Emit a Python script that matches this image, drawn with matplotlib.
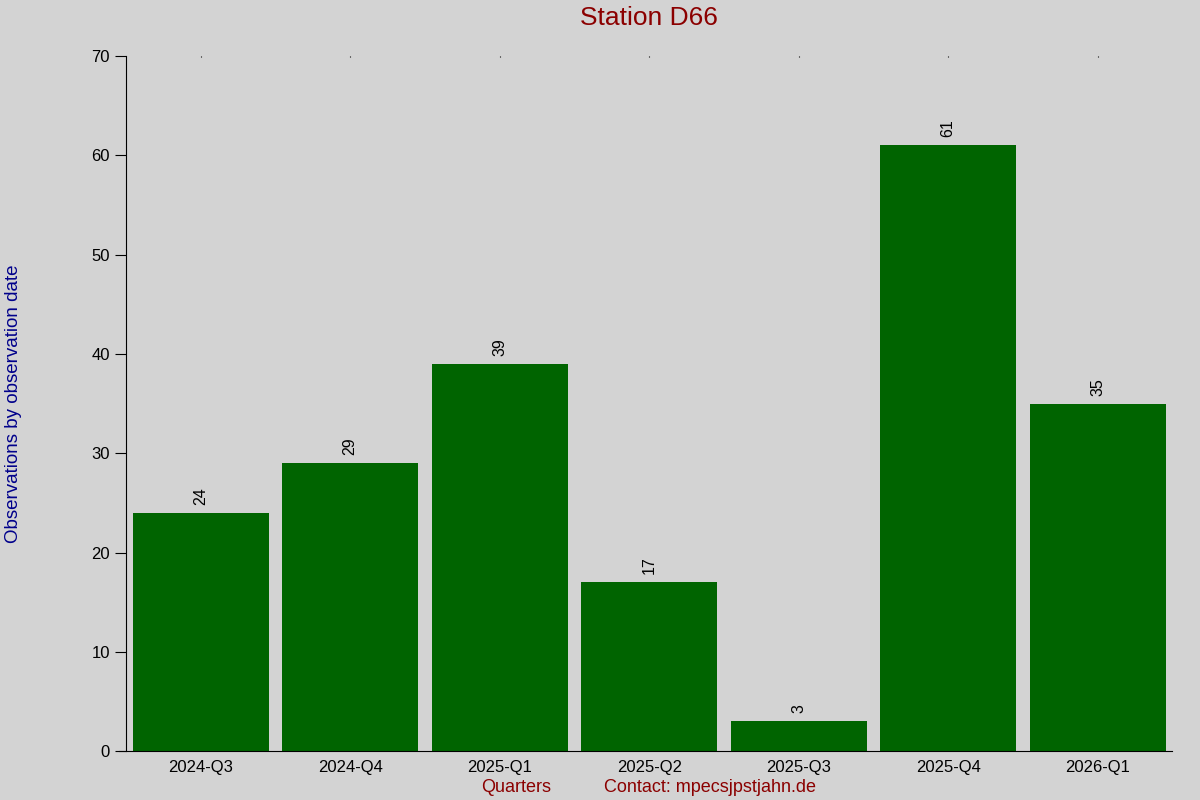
import matplotlib.pyplot as plt
import numpy as np

plt.rcParams['font.family'] = ['Liberation Sans', 'DejaVu Sans']

quarters = ['2024-Q3', '2024-Q4', '2025-Q1', '2025-Q2', '2025-Q3', '2025-Q4', '2026-Q1']
counts = [24, 29, 39, 17, 3, 61, 35]

bg = '#d3d3d3'
fig = plt.figure(figsize=(12, 8), dpi=100, facecolor=bg)
ax = fig.add_axes([0.105, 0.061, 0.872, 0.869], facecolor=bg)

x = np.arange(len(quarters))
bars = ax.bar(x, counts, width=0.91, color='#006400')

for xi, v in zip(x, counts):
    ax.text(xi, v + 0.8, str(v), rotation=90, ha='center', va='bottom', fontsize=11.5)

ax.set_xlim(-0.5, len(quarters) - 0.5)
ax.set_ylim(0, 70)
ax.set_yticks(range(0, 71, 10))
ax.set_xticks(x)
ax.set_xticklabels(quarters, fontsize=12)
ax.tick_params(axis='y', labelsize=12, length=8, direction='out')
ax.tick_params(axis='x', bottom=False, top=True, length=1, direction='in', pad=6)

for s in ['top', 'right']:
    ax.spines[s].set_visible(False)
ax.spines['bottom'].set_bounds(-0.55, len(quarters) - 0.5)

ax.set_title('Station D66', color='#8b0000', fontsize=19, pad=22)
ax.set_ylabel('Observations by observation date', color='#00008b', fontsize=13.5, labelpad=50)

fig.text(0.43, 0.015, 'Quarters', color='#8b0000', fontsize=13, ha='center', va='center')
fig.text(0.592, 0.015, 'Contact: mpecsjpstjahn.de', color='#8b0000', fontsize=13, ha='center', va='center')

fig.savefig('out.png', facecolor=bg)
